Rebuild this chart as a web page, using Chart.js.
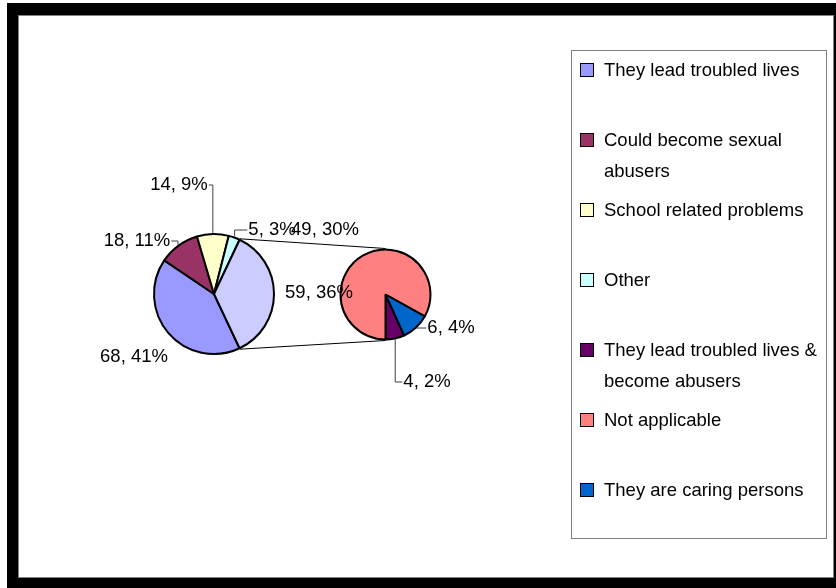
<!DOCTYPE html>
<html>
<head>
<meta charset="utf-8">
<title>Pie of pie</title>
<script src="https://cdn.jsdelivr.net/npm/chart.js@4.4.0/dist/chart.umd.min.js"></script>
<style>
	body { margin: 0; background: #fff; font-family: "Liberation Sans", Arial, sans-serif; }
	#frame { position: absolute; left: 7px; top: 3px; width: 829px; height: 585px; background: #000; }
	#plot { position: absolute; left: 18px; top: 15px; width: 816px; height: 563px; background: #fff;
		border: 1px solid #808080; box-sizing: border-box; }
	canvas { position: absolute; left: 0; top: 0; }
	#legend { position: absolute; left: 571px; top: 50px; width: 256px; height: 489px; box-sizing: border-box;
		border: 1px solid #808080; background: #fff; padding-top: 2.5px; font-size: 18.5px; line-height: 31px; color: #000; }
	.item { position: relative; height: 70px; padding-left: 32px; padding-right: 2px; }
	.swatch { position: absolute; left: 8px; top: 9px; width: 12px; height: 12px; border: 1.5px solid #000; }
</style>
</head>
<body>
<div id="frame"></div>
<div id="plot"></div>
<canvas id="splitChart" width="836" height="588"></canvas>
<canvas id="mainChart" width="836" height="588"></canvas>
<div id="legend"></div>

<script>
// Data (count, percentage shown in labels)
var mainLabels = ['They lead troubled lives', 'Could become sexual abusers', 'School related problems', 'Other'];
var mainValues = [68, 18, 14, 5];
var mainColors = ['#9999FF', '#993366', '#FFFFCC', '#CCFFFF'];

var splitLabels = ['They lead troubled lives & become abusers', 'Not applicable', 'They are caring persons'];
var splitValues = [4, 49, 6];
var splitColors = ['#660066', '#FF8080', '#0066CC'];
var splitSliceColor = '#CCCCFF';

// label placement: offset of label centre from its pie centre, and whether a leader line is drawn
var mainLabelPos = [[-80, 63, false], [-77, -53, true], [-35, -109, true], [58, -64, true], [105, -1, false]];
var splitLabelPos = [[41.5, 87.5, true], [-60.5, -64.5, false], [65.5, 33.5, true]];

var splitTotal = splitValues.reduce(function(a, b) { return a + b; }, 0);
var total = mainValues.reduce(function(a, b) { return a + b; }, 0) + splitTotal;
var labelFont = '18.5px "Liberation Sans", Arial, sans-serif';

var sliceLabels = {
	id: 'sliceLabels',
	afterDatasetsDraw: function(chart, args, opts) {
		var ctx = chart.ctx;
		var meta = chart.getDatasetMeta(0);
		var values = chart.data.datasets[0].data;
		ctx.save();
		ctx.font = labelFont;
		ctx.fillStyle = '#000';
		ctx.textAlign = 'center';
		ctx.textBaseline = 'middle';
		meta.data.forEach(function(arc, i) {
			var pos = opts.positions[i];
			var text = values[i] + ', ' + Math.round(values[i] / total * 100) + '%';
			var lx = arc.x + pos[0];
			var ly = arc.y + pos[1];
			var w = ctx.measureText(text).width;

			if(pos[2]) {
				var mid = (arc.startAngle + arc.endAngle) / 2;
				var r = arc.outerRadius + 1;
				var px = arc.x + r * Math.cos(mid);
				var py = arc.y + r * Math.sin(mid);
				var edgeX = lx < px ? lx + w / 2 + 1 : lx - w / 2 - 1;
				ctx.beginPath();
				ctx.strokeStyle = '#404040';
				ctx.lineWidth = 1;
				ctx.moveTo(px, py);
				ctx.lineTo(px, ly);
				ctx.lineTo(edgeX, ly);
				ctx.stroke();
			}
			ctx.fillText(text, lx, ly);
		});
		ctx.restore();
	}
};

var pieConnectors = {
	id: 'pieConnectors',
	afterDatasetsDraw: function(chart) {
		var arc = chart.getDatasetMeta(0).data[mainValues.length];
		var other = splitChart.getDatasetMeta(0).data[0];
		var r1 = arc.outerRadius + 1;
		var r2 = other.outerRadius + 1;
		var ctx = chart.ctx;
		ctx.save();
		ctx.strokeStyle = '#000';
		ctx.lineWidth = 1;
		ctx.beginPath();
		ctx.moveTo(arc.x + r1 * Math.cos(arc.startAngle), arc.y + r1 * Math.sin(arc.startAngle));
		ctx.lineTo(other.x, other.y - r2);
		ctx.moveTo(arc.x + r1 * Math.cos(arc.endAngle), arc.y + r1 * Math.sin(arc.endAngle));
		ctx.lineTo(other.x, other.y + r2);
		ctx.stroke();
		ctx.restore();
	}
};

// Secondary pie (breakdown of the combined slice)
var splitChart = new Chart(document.getElementById('splitChart').getContext('2d'), {
	type: 'pie',
	data: {
		labels: splitLabels,
		datasets: [{
			data: splitValues,
			backgroundColor: splitColors,
			borderColor: '#000',
			borderWidth: 2
		}]
	},
	options: {
		responsive: false,
		animation: false,
		events: [],
		rotation: 180 - splitValues[0] / splitTotal * 360,
		radius: 45,
		layout: { padding: { left: 335.5, right: 400.5, top: 244.5, bottom: 243.5 } },
		plugins: {
			legend: { display: false },
			tooltip: { enabled: false },
			sliceLabels: { positions: splitLabelPos }
		}
	},
	plugins: [sliceLabels]
});

// Main pie, last slice is the combined one
var mainChart = new Chart(document.getElementById('mainChart').getContext('2d'), {
	type: 'pie',
	data: {
		labels: mainLabels.concat(['Other']),
		datasets: [{
			data: mainValues.concat([splitTotal]),
			backgroundColor: mainColors.concat([splitSliceColor]),
			borderColor: '#000',
			borderWidth: 2
		}]
	},
	options: {
		responsive: false,
		animation: false,
		events: [],
		rotation: 90 + splitTotal / total * 180,
		radius: 60,
		layout: { padding: { left: 150, right: 558, top: 230, bottom: 230 } },
		plugins: {
			legend: { display: false },
			tooltip: { enabled: false },
			sliceLabels: { positions: mainLabelPos }
		}
	},
	plugins: [sliceLabels, pieConnectors]
});

// Legend in the boxed area on the right
var legend = document.getElementById('legend');
var legendLabels = mainLabels.concat(splitLabels);
var legendColors = mainColors.concat(splitColors);

for(var i = 0; i < legendLabels.length; i++) {
	var item = document.createElement('div');
	item.className = 'item';
	var swatch = document.createElement('span');
	swatch.className = 'swatch';
	swatch.style.background = legendColors[i];
	item.appendChild(swatch);
	item.appendChild(document.createTextNode(legendLabels[i]));
	legend.appendChild(item);
}
</script>
</body>
</html>
